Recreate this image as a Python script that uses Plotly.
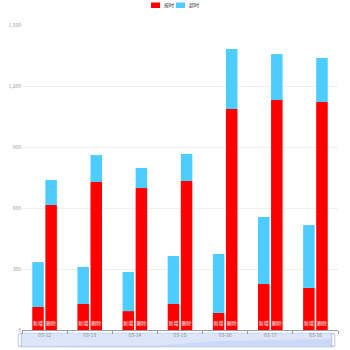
import plotly.graph_objects as go

categories = ["03-12", "03-13", "03-14", "03-15", "03-16", "03-17", "03-18"]
series_names = ["按时", "超时"]
stack_labels = ["新增", "删除"]
# stack "新增"
new_ontime = [113, 128, 93, 128, 84, 226, 207]
new_overdue = [221, 182, 192, 236, 290, 330, 309]
# stack "删除"
del_ontime = [615, 728, 698, 733, 1087, 1131, 1121]
del_overdue = [123, 132, 99, 133, 295, 226, 217]

RED = "#ff0000"
BLUE = "#4ccdfe"

fig = go.Figure()
fig.add_bar(x=categories, y=new_ontime, name=series_names[0], offsetgroup="a",
            marker_color=RED, text=[stack_labels[0]] * 7,
            textposition="inside", insidetextanchor="start", textangle=0,
            textfont=dict(color="white", size=5))
fig.add_bar(x=categories, y=new_overdue, base=new_ontime, name=series_names[1],
            offsetgroup="a", marker_color=BLUE)
fig.add_bar(x=categories, y=del_ontime, name=series_names[0], offsetgroup="b",
            marker_color=RED, text=[stack_labels[1]] * 7,
            textposition="inside", insidetextanchor="start", textangle=0,
            textfont=dict(color="white", size=5))
fig.add_bar(x=categories, y=del_overdue, base=del_ontime, name=series_names[1],
            offsetgroup="b", marker_color=BLUE)

for t in fig.data:
    t.marker.line.width = 0

# plot area: top y=25px, bottom y=330px (height 305)
def py(pix):
    return (330 - pix) / 305.0

def px(pix):
    return (pix - 22) / 316.0

shapes = [
    dict(type="rect", xref="paper", yref="paper", x0=-0.006, x1=0.985, y0=py(333), y1=py(347),
         fillcolor="rgba(167,183,204,0.15)", line=dict(color="#d2dbee", width=1), layer="below"),
    dict(type="rect", xref="paper", yref="paper", x0=-0.006, x1=0.985, y0=py(333), y1=py(347),
         fillcolor="rgba(135,175,255,0.2)", line=dict(width=0), layer="below"),
    dict(type="path", xref="paper", yref="paper",
         path=f"M -0.006 {py(346)} L 0.43 {py(345.5)} L 0.62 {py(341)} L 0.985 {py(339)} "
              f"L 0.985 {py(347)} L -0.006 {py(347)} Z",
         fillcolor="rgba(130,160,240,0.18)", line=dict(width=0), layer="below"),
    dict(type="rect", xref="paper", yref="paper", x0=-0.012, x1=-0.002, y0=py(334), y1=py(346),
         fillcolor="white", line=dict(color="#acb8d1", width=0.8)),
    dict(type="rect", xref="paper", yref="paper", x0=0.98, x1=0.99, y0=py(334), y1=py(346),
         fillcolor="white", line=dict(color="#acb8d1", width=0.8)),
    # legend swatches
    dict(type="rect", xref="paper", yref="paper", x0=px(151), x1=px(160), y0=py(2.5), y1=py(8),
         fillcolor=RED, line=dict(width=0)),
    dict(type="rect", xref="paper", yref="paper", x0=px(176), x1=px(185), y0=py(2.5), y1=py(8),
         fillcolor=BLUE, line=dict(width=0)),
]

annotations = [
    dict(xref="paper", yref="paper", x=px(162), y=py(5.3), text=series_names[0],
         showarrow=False, xanchor="left", yanchor="middle",
         font=dict(size=5, color="#333")),
    dict(xref="paper", yref="paper", x=px(187), y=py(5.3), text=series_names[1],
         showarrow=False, xanchor="left", yanchor="middle",
         font=dict(size=5, color="#333")),
]

fig.update_layout(
    width=350, height=350,
    margin=dict(l=22, r=12, t=25, b=20, autoexpand=False),
    barmode="group", bargap=0.42, bargroupgap=0.12,
    plot_bgcolor="white", paper_bgcolor="white",
    font=dict(family="Noto Sans CJK SC, sans-serif", size=6, color="#666"),
    showlegend=False,
    shapes=shapes,
    annotations=annotations,
    uniformtext=dict(minsize=4, mode="show"),
)
fig.update_xaxes(type="category", showline=True, linecolor="#999", linewidth=1,
                 ticks="outside", tickcolor="#999", ticklen=3, tickson="boundaries",
                 tickfont=dict(size=5, color="#888"), showgrid=False)
fig.update_yaxes(range=[0, 1500], dtick=300, tickformat=",", showline=False,
                 gridcolor="#f0f0f0", tickfont=dict(size=5, color="#999"),
                 zeroline=False)

fig.write_html("out.html")
